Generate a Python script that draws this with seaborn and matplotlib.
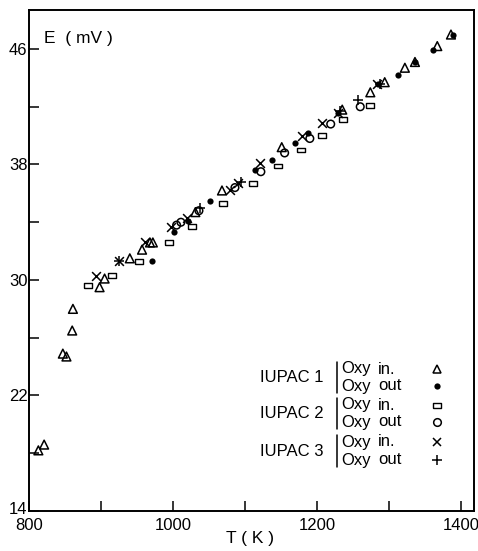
import matplotlib
matplotlib.use("Agg")
import matplotlib.pyplot as plt
from matplotlib import font_manager
import matplotlib.transforms as mtransforms
import seaborn as sns
import pandas as pd

# ---- data ----
iupac1_in_T = [813, 821, 847, 852, 860, 861, 898, 905, 940, 957, 968, 972, 1031, 1068,
               1151, 1235, 1274, 1294, 1322, 1336, 1367, 1386]
iupac1_in_E = [18.2, 18.6, 24.9, 24.7, 26.5, 28.0, 29.5, 30.1, 31.5, 32.1, 32.6, 32.6, 34.7, 36.2,
               39.2, 41.8, 43.0, 43.7, 44.7, 45.1, 46.2, 47.0]

iupac1_out_T = [971, 1001, 1021, 1051, 1114, 1137, 1169, 1187, 1229, 1285, 1312, 1336, 1361, 1389]
iupac1_out_E = [31.3, 33.3, 34.1, 35.5, 37.6, 38.3, 39.5, 40.2, 41.6, 43.6, 44.2, 45.1, 45.9, 47.0]

iupac2_in_T = [882, 915, 953, 994, 1026, 1069, 1111, 1146, 1178, 1207, 1236, 1274]
iupac2_in_E = [29.6, 30.3, 31.3, 32.6, 33.7, 35.3, 36.7, 37.9, 39.0, 40.0, 41.1, 42.1]

iupac2_out_T = [1005, 1011, 1036, 1086, 1122, 1155, 1190, 1219, 1260]
iupac2_out_E = [33.8, 34.0, 34.8, 36.4, 37.5, 38.8, 39.8, 40.8, 42.0]

iupac3_in_T = [893, 925, 961, 997, 1019, 1079, 1090, 1121, 1179, 1207, 1229, 1283]
iupac3_in_E = [30.3, 31.3, 32.6, 33.7, 34.3, 36.2, 36.7, 38.1, 40.0, 40.9, 41.6, 43.6]

iupac3_out_T = [925, 1037, 1094, 1232, 1257, 1287]
iupac3_out_E = [31.3, 35.0, 36.8, 41.7, 42.5, 43.6]

x_ticks = [800, 1000, 1200, 1400]
x_minor = [900, 1100, 1300]
y_ticks = [14, 22, 30, 38, 46]
y_minor = [18, 26, 34, 42]

legend_groups = ["IUPAC 1", "IUPAC 2", "IUPAC 3"]
legend_rows = ["in.", "out"]

# ---- style ----
sns.set_theme(style="white")
names = {f.name for f in font_manager.fontManager.ttflist}
fam = "Liberation Sans Narrow" if "Liberation Sans Narrow" in names else "Liberation Sans"
plt.rcParams["font.family"] = [fam, "DejaVu Sans"]

W, H = 478, 551
fig = plt.figure(figsize=(W / 100, H / 100), dpi=100)
L, R, B, T = 29, 474, 511, 10
ax = fig.add_axes([L / W, 1 - B / H, (R - L) / W, (B - T) / H])

rect = [(-1, -0.6), (1, -0.6), (1, 0.6), (-1, 0.6), (-1, -0.6)]

series = [
    (iupac1_in_T, iupac1_in_E, dict(marker="^", s=40, facecolors="none", edgecolors="black", linewidths=1.1)),
    (iupac1_out_T, iupac1_out_E, dict(marker="o", s=20, color="black", edgecolors="black", linewidths=0)),
    (iupac2_in_T, iupac2_in_E, dict(marker=rect, s=34, facecolors="none", edgecolors="black", linewidths=1.0)),
    (iupac2_out_T, iupac2_out_E, dict(marker="o", s=30, facecolors="none", edgecolors="black", linewidths=1.1)),
    (iupac3_in_T, iupac3_in_E, dict(marker="x", s=40, color="black", linewidths=1.1)),
    (iupac3_out_T, iupac3_out_E, dict(marker="+", s=60, color="black", linewidths=1.1)),
]
for xs, ys, kw in series:
    df = pd.DataFrame({"T": xs, "E": ys})
    sns.scatterplot(data=df, x="T", y="E", ax=ax, legend=False, **kw)

ax.set_xlim(800, 1418)
ax.set_ylim(14, 48.7)
ax.set_xticks(x_ticks)
ax.set_xticks(x_minor, minor=True)
ax.set_yticks(y_ticks)
ax.set_yticks(y_minor, minor=True)
ax.set_xticklabels([str(v) for v in x_ticks])
ax.set_yticklabels([str(v) for v in y_ticks])
ax.tick_params(axis="both", which="both", direction="in", length=7, width=1.1,
               color="black", bottom=True, left=True, top=False, right=False)
ax.tick_params(axis="x", which="major", labelsize=12, pad=5, labelcolor="black")
ax.tick_params(axis="y", which="major", labelsize=12, pad=1, labelcolor="black")
ax.set_xlabel("")
ax.set_ylabel("")
for sp in ax.spines.values():
    sp.set_color("black")
    sp.set_linewidth(1.4)
    sp.set_visible(True)

# lift the lowest y label slightly, as in the reference
lbl = ax.get_yticklabels()[0]
lbl.set_transform(lbl.get_transform() + mtransforms.ScaledTranslation(0, 3 / 100, fig.dpi_scale_trans))


def px(x, y):
    return ((x - L) / (R - L), (B - y) / (B - T))


ax.text(*px(44, 38), "E  ( mV )", transform=ax.transAxes, fontsize=12.5, ha="left", va="center", color="black")
fig.text(250 / W, 1 - 538 / H, "T ( K )", fontsize=12.5, ha="center", va="center", color="black")

# legend block
group_y = [377, 414, 452]
row_y = [(369, 386), (405, 422), (442, 460)]
marker_kw = [
    dict(marker="^", ms=6, mfc="none", mec="black", mew=1.1),
    dict(marker="o", ms=4.5, mfc="black", mec="black", mew=0),
    dict(marker=rect, ms=6, mfc="none", mec="black", mew=1.0),
    dict(marker="o", ms=5.5, mfc="none", mec="black", mew=1.1),
    dict(marker="x", ms=6, mec="black", mew=1.1),
    dict(marker="+", ms=7.5, mec="black", mew=1.1),
]
k = 0
for g, gy, (ya, yb) in zip(legend_groups, group_y, row_y):
    ax.text(*px(260, gy), g, transform=ax.transAxes, fontsize=12, ha="left", va="center", color="black")
    x0, y0 = px(337, ya - 7)
    x1, y1 = px(337, yb + 7)
    ax.plot([x0, x1], [y0, y1], transform=ax.transAxes, color="black", lw=1.1)
    for yy, lab in zip((ya, yb), legend_rows):
        ax.text(*px(341, yy), "Oxy", transform=ax.transAxes, fontsize=12, ha="left", va="center", color="black")
        ax.text(*px(378, yy), lab, transform=ax.transAxes, fontsize=12, ha="left", va="center", color="black")
        ax.plot(*px(437, yy), transform=ax.transAxes, linestyle="none", **marker_kw[k])
        k += 1

fig.savefig("out.png", dpi=100)
